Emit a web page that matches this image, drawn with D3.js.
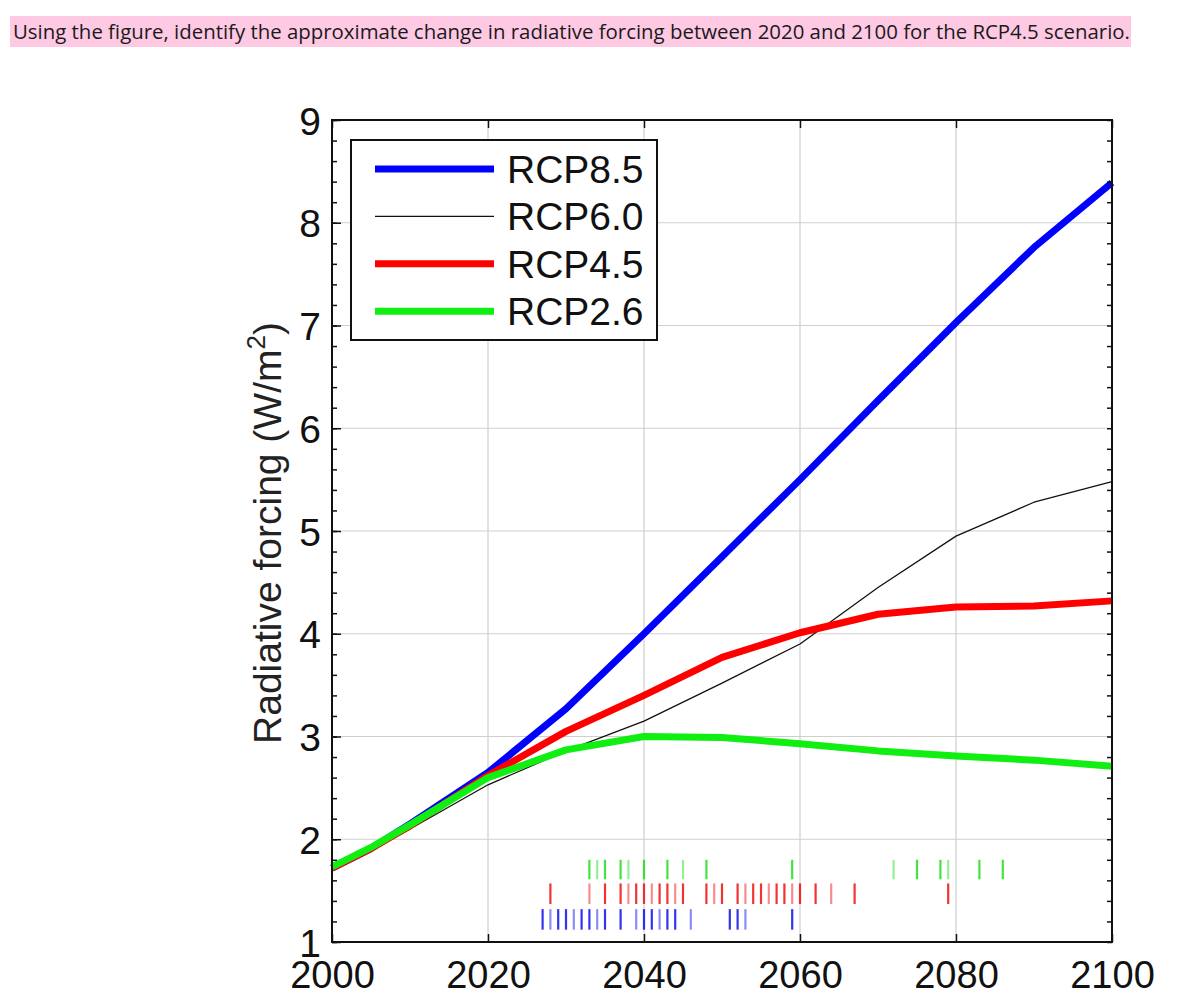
<!DOCTYPE html>
<html>
<head>
<meta charset="utf-8">
<script src="https://cdn.jsdelivr.net/npm/d3@7"></script>
<style>
  body { margin: 0; background: #fff; }
  svg { display: block; }
</style>
</head>
<body>
<svg id="chart" width="1200" height="996"></svg>
<script>
const question = "Using the figure, identify the approximate change in radiative forcing between 2020 and 2100 for the RCP4.5 scenario.";

const years = [2000, 2005, 2010, 2020, 2030, 2040, 2050, 2060, 2070, 2080, 2090, 2100];
const rcp85 = [1.72, 1.91, 2.15, 2.65, 3.27, 4.00, 4.75, 5.50, 6.27, 7.03, 7.76, 8.39];
const rcp60 = [1.72, 1.91, 2.10, 2.53, 2.86, 3.15, 3.52, 3.90, 4.45, 4.95, 5.28, 5.48];
const rcp45 = [1.72, 1.91, 2.13, 2.62, 3.05, 3.40, 3.77, 4.01, 4.19, 4.26, 4.27, 4.32];
const rcp26 = [1.73, 1.92, 2.14, 2.60, 2.87, 3.00, 2.99, 2.93, 2.86, 2.81, 2.77, 2.71];

// years marked along the bottom (one row per scenario)
const marks26 = [2033, 2034, 2035, 2037, 2038, 2040, 2043, 2045, 2048, 2059, 2072, 2075, 2078, 2079, 2083, 2086];
const marks45 = [2028, 2033, 2035, 2037, 2038, 2039, 2040, 2041, 2042, 2043, 2044, 2045, 2048, 2049, 2050,
                 2052, 2053, 2054, 2055, 2056, 2057, 2058, 2059, 2060, 2062, 2064, 2067, 2079];
const marks85 = [2027, 2028, 2029, 2030, 2031, 2032, 2033, 2034, 2035, 2037, 2039, 2040, 2041, 2042, 2043,
                 2044, 2046, 2051, 2052, 2053, 2059];

const xTicks = [2000, 2020, 2040, 2060, 2080, 2100];
const yTicks = [1, 2, 3, 4, 5, 6, 7, 8, 9];

const series = [
    {name: "RCP6.0", values: rcp60, color: "#111", width: 1.3},
    {name: "RCP8.5", values: rcp85, color: "#0000ff", width: 7},
    {name: "RCP4.5", values: rcp45, color: "#ff0000", width: 7},
    {name: "RCP2.6", values: rcp26, color: "#11ee11", width: 7}
];
const legendOrder = ["RCP8.5", "RCP6.0", "RCP4.5", "RCP2.6"];

const rugs = [
    {marks: marks26, lo: 1.61, hi: 1.80, color: "#11dd11"},
    {marks: marks45, lo: 1.37, hi: 1.57, color: "#ee0000"},
    {marks: marks85, lo: 1.12, hi: 1.32, color: "#0000ee"}
];

const svg = d3.select("#chart");
const font = "Liberation Sans, Arial, Helvetica, sans-serif";

// question banner
svg.append("rect")
    .attr("x", 10).attr("y", 16).attr("width", 1121).attr("height", 31)
    .attr("fill", "#fdc9e3");
svg.append("text")
    .attr("x", 13).attr("y", 39)
    .attr("font-family", "Open Sans, sans-serif")
    .attr("font-size", 20.4)
    .attr("fill", "#1a1a1a")
    .text(question);

const pL = 332, pR = 1112, pT = 120, pB = 942;
const x = d3.scaleLinear().domain([2000, 2100]).range([pL, pR]);
const y = d3.scaleLinear().domain([1, 9]).range([pB, pT]);

// grid
const grid = svg.append("g").attr("stroke", "#cfcfcf").attr("stroke-width", 1.2);
grid.selectAll(".gx").data(xTicks.slice(1, -1)).join("line")
    .attr("x1", d => x(d)).attr("x2", d => x(d))
    .attr("y1", pT).attr("y2", pB);
grid.selectAll(".gy").data(yTicks.slice(1, -1)).join("line")
    .attr("x1", pL).attr("x2", pR)
    .attr("y1", d => y(d)).attr("y2", d => y(d));

// rug marks
rugs.forEach(r => {
    svg.append("g").selectAll("line").data(r.marks).join("line")
        .attr("x1", d => x(d)).attr("x2", d => x(d))
        .attr("y1", y(r.lo)).attr("y2", y(r.hi))
        .attr("stroke", r.color)
        .attr("stroke-width", 2.2)
        .attr("stroke-opacity", (d, i) => (i % 3 === 1 ? 0.45 : 0.8));
});

// curves
const line = d3.line().x((d, i) => x(years[i])).y(d => y(d));
series.forEach(s => {
    svg.append("path")
        .attr("d", line(s.values))
        .attr("fill", "none")
        .attr("stroke", s.color)
        .attr("stroke-width", s.width)
        .attr("stroke-linejoin", "round");
});

// axes
const minor = d3.range(1, 9.001, 0.2);
svg.append("g")
    .attr("transform", `translate(${pL},0)`)
    .call(d3.axisLeft(y).tickValues(minor).tickSize(-5).tickFormat(""))
    .call(g => g.select(".domain").remove());
svg.append("g")
    .attr("transform", `translate(${pR},0)`)
    .call(d3.axisRight(y).tickValues(minor).tickSize(-5).tickFormat(""))
    .call(g => g.select(".domain").remove());

const yAxis = svg.append("g")
    .attr("transform", `translate(${pL},0)`)
    .call(d3.axisLeft(y).tickValues(yTicks).tickSizeInner(-9).tickSizeOuter(0).tickPadding(11).tickFormat(d3.format("d")));
yAxis.select(".domain").remove();
yAxis.selectAll("text").attr("font-size", 39).attr("font-family", font).attr("fill", "#111").attr("dy", "0.36em");

const xAxis = svg.append("g")
    .attr("transform", `translate(0,${pB})`)
    .call(d3.axisBottom(x).tickValues(xTicks).tickSizeInner(-8).tickSizeOuter(0).tickPadding(19).tickFormat(d3.format("d")));
xAxis.select(".domain").remove();
xAxis.selectAll("text").attr("font-size", 38).attr("font-family", font).attr("fill", "#111");

svg.append("g")
    .attr("transform", `translate(0,${pT})`)
    .call(d3.axisTop(x).tickValues(xTicks).tickSize(-8).tickFormat(""))
    .call(g => g.select(".domain").remove());

svg.selectAll(".tick line").attr("stroke", "#111").attr("stroke-width", 1.5);

svg.append("rect")
    .attr("x", pL).attr("y", pT)
    .attr("width", pR - pL).attr("height", pB - pT)
    .attr("fill", "none").attr("stroke", "#111").attr("stroke-width", 2);

// y title
const title = svg.append("text")
    .attr("transform", `translate(281,${(pT + pB) / 2 + 2}) rotate(-90)`)
    .attr("text-anchor", "middle")
    .attr("font-family", font)
    .attr("font-size", 39)
    .attr("fill", "#222");
title.append("tspan").text("Radiative forcing (W/m");
title.append("tspan").attr("font-size", 26).attr("dy", -16).text("2");
title.append("tspan").attr("dy", 16).text(")");

// legend
const lg = svg.append("g");
lg.append("rect")
    .attr("x", 351).attr("y", 140).attr("width", 306).attr("height", 200)
    .attr("fill", "#fff").attr("stroke", "#111").attr("stroke-width", 2);
const rows = lg.selectAll(".row")
    .data(legendOrder.map(n => series.find(s => s.name === n)))
    .join("g")
    .attr("transform", (d, i) => `translate(0,${169 + i * 47.4})`);
rows.append("line")
    .attr("x1", 375).attr("x2", 494)
    .attr("stroke", d => d.color)
    .attr("stroke-width", d => d.width);
rows.append("text")
    .attr("x", 507).attr("dy", "0.36em")
    .attr("font-family", font)
    .attr("font-size", 39)
    .attr("fill", "#111")
    .text(d => d.name);
</script>
</body>
</html>
